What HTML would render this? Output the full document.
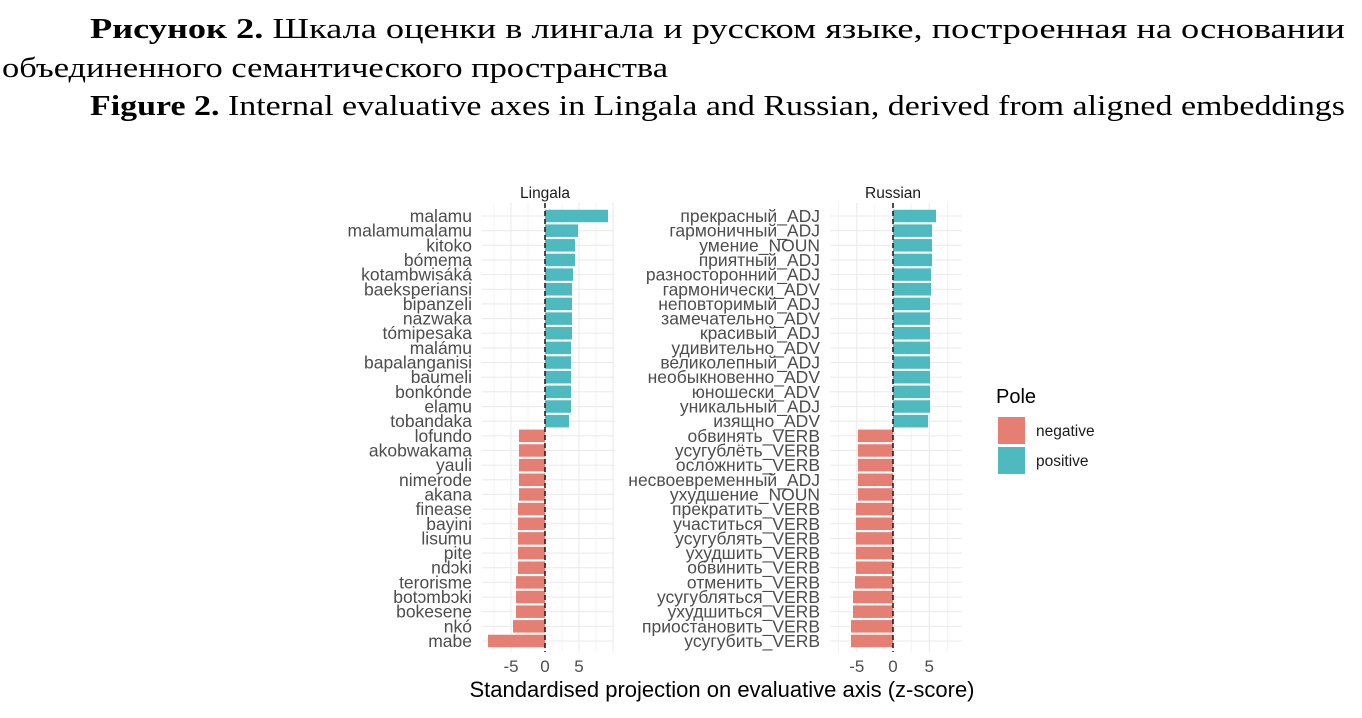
<!DOCTYPE html>
<html><head><meta charset="utf-8"><style>
html,body{margin:0;padding:0;background:#fff;}
svg{display:block}
.serif{font-family:"Liberation Serif","Times New Roman",serif;}
.sans{font-family:"Liberation Sans",Arial,sans-serif;}
</style></head><body>
<svg id="s" width="1362" height="718" xmlns="http://www.w3.org/2000/svg">
<g class="serif" font-size="28" fill="#000">
<text x="90" y="38" textLength="1255" lengthAdjust="spacingAndGlyphs"><tspan font-weight="bold">Рисунок 2.</tspan> Шкала оценки в лингала и русском языке, построенная на основании</text>
<text x="2" y="77" textLength="666" lengthAdjust="spacingAndGlyphs">объединенного семантического пространства</text>
<text x="90" y="115" textLength="1255" lengthAdjust="spacingAndGlyphs"><tspan font-weight="bold">Figure 2.</tspan> Internal evaluative axes in Lingala and Russian, derived from aligned embeddings</text>
</g>
<g id="plot" class="sans"></g>
</svg>
<script>
const NS="http://www.w3.org/2000/svg";
const g=document.getElementById('plot');
function el(t,a,txt){const e=document.createElementNS(NS,t);for(const k in a)e.setAttribute(k,a[k]);if(txt!==undefined)e.textContent=txt;g.appendChild(e);return e;}
const y0=216,dy=14.655,bh=12.5;
const L=[["malamu",608],["malamumalamu",578],["kitoko",575],["bómema",575],["kotambwisáká",573],["baeksperiansi",572],["bipanzeli",572],["nazwaka",572],["tómipesaka",572],["malámu",571],["bapalanganisi",571],["baumeli",571],["bonkónde",571],["elamu",571],["tobandaka",569],["lofundo",519],["akobwakama",519],["yauli",519],["nimerode",519],["akana",519],["finease",518],["bayini",518],["lisumu",518],["pite",518],["ndɔki",518],["terorisme",516],["botɔmbɔki",516],["bokesene",516],["nkó",513],["mabe",488]];
const R=[["прекрасный_ADJ",936],["гармоничный_ADJ",932],["умение_NOUN",932],["приятный_ADJ",932],["разносторонний_ADJ",931],["гармонически_ADV",931],["неповторимый_ADJ",930],["замечательно_ADV",930],["красивый_ADJ",930],["удивительно_ADV",930],["великолепный_ADJ",930],["необыкновенно_ADV",930],["юношески_ADV",930],["уникальный_ADJ",930],["изящно_ADV",928],["обвинять_VERB",858],["усугублёть_VERB",858],["осложнить_VERB",858],["несвоевременный_ADJ",858],["ухудшение_NOUN",858],["прекратить_VERB",856],["участиться_VERB",856],["усугублять_VERB",856],["ухудшить_VERB",856],["обвинить_VERB",856],["отменить_VERB",855],["усугубляться_VERB",853],["ухудшиться_VERB",853],["приостановить_VERB",851],["усугубить_VERB",851]];
function panel(data,x0,x1,zero,unit,labX,title){
  const top=203,bot=652;
  for(let v=-10;v<=10;v+=2.5){const x=zero+v*unit;if(x<x0||x>x1)continue;el('line',{x1:x,x2:x,y1:top,y2:bot,stroke:'#ebebeb','stroke-width':(v%5===0)?1.1:0.6});}
  data.forEach((d,i)=>{const y=y0+i*dy;el('line',{x1:x0,x2:x1,y1:y,y2:y,stroke:'#ebebeb','stroke-width':1.1});});
  data.forEach((d,i)=>{const y=y0+i*dy;const pos=d[1]>zero;const a=Math.min(zero,d[1]),b=Math.max(zero,d[1]);
    el('rect',{x:a,y:y-bh/2,width:b-a,height:bh,fill:pos?'#4fb9c0':'#e57f74'});
    el('text',{x:labX,y:y+6,'text-anchor':'end','font-size':17.5,fill:'#4d4d4d'},d[0]);});
  el('line',{x1:zero,x2:zero,y1:top,y2:bot,stroke:'#222','stroke-width':1.6,'stroke-dasharray':'5,3'});
  [-5,0,5].forEach(v=>el('text',{x:zero+v*unit,y:672,'text-anchor':'middle','font-size':17,fill:'#4d4d4d'},String(v)));
  el('text',{x:zero,y:198,'text-anchor':'middle','font-size':15.5,fill:'#1a1a1a'},title);
}
panel(L,482,614,545,6.8,472,'Lingala');
panel(R,830,962,893,7.25,820,'Russian');
el('text',{x:722,y:697,'text-anchor':'middle','font-size':22,fill:'#000'},'Standardised projection on evaluative axis (z-score)');
el('text',{x:996,y:403,'font-size':20,fill:'#000'},'Pole');
el('rect',{x:998,y:417,width:27,height:27,fill:'#e57f74'});
el('rect',{x:998,y:447,width:27,height:27,fill:'#4fb9c0'});
el('text',{x:1036,y:436,'font-size':15.5,fill:'#1a1a1a'},'negative');
el('text',{x:1036,y:466,'font-size':15.5,fill:'#1a1a1a'},'positive');
</script>
</body></html>
